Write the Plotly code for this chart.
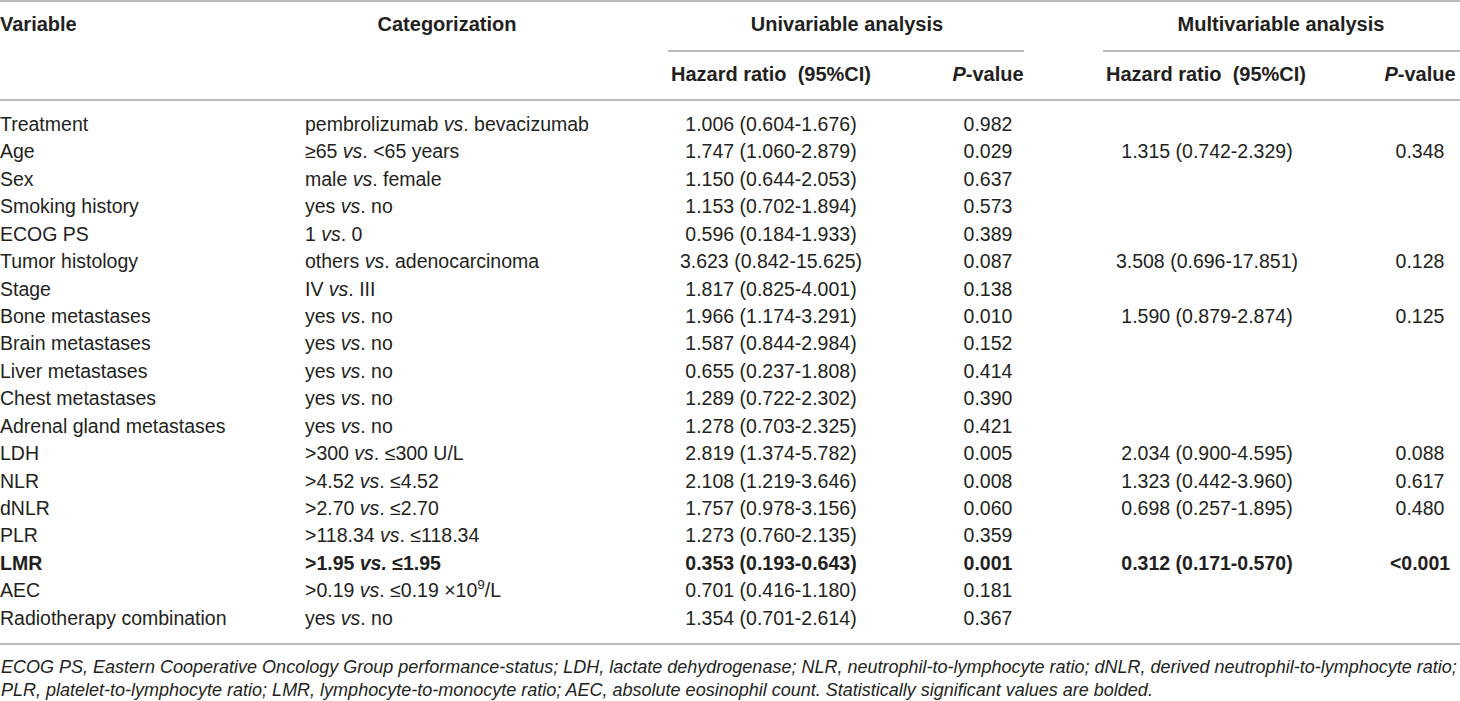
import plotly.graph_objects as go

# ---------------- data ----------------
variables = ["Treatment", "Age", "Sex", "Smoking history", "ECOG PS", "Tumor histology", "Stage",
             "Bone metastases", "Brain metastases", "Liver metastases", "Chest metastases",
             "Adrenal gland metastases", "LDH", "NLR", "dNLR", "PLR", "LMR", "AEC",
             "Radiotherapy combination"]
categories = ["pembrolizumab vs. bevacizumab", "≥65 vs. &lt;65 years", "male vs. female", "yes vs. no",
              "1 vs. 0", "others vs. adenocarcinoma", "IV vs. III", "yes vs. no", "yes vs. no",
              "yes vs. no", "yes vs. no", "yes vs. no", "&gt;300 vs. ≤300 U/L", "&gt;4.52 vs. ≤4.52",
              "&gt;2.70 vs. ≤2.70", "&gt;118.34 vs. ≤118.34", "&gt;1.95 vs. ≤1.95",
              "&gt;0.19 vs. ≤0.19 ×10<sup>9</sup>/L", "yes vs. no"]
uni_hr = ["1.006 (0.604-1.676)", "1.747 (1.060-2.879)", "1.150 (0.644-2.053)", "1.153 (0.702-1.894)",
          "0.596 (0.184-1.933)", "3.623 (0.842-15.625)", "1.817 (0.825-4.001)", "1.966 (1.174-3.291)",
          "1.587 (0.844-2.984)", "0.655 (0.237-1.808)", "1.289 (0.722-2.302)", "1.278 (0.703-2.325)",
          "2.819 (1.374-5.782)", "2.108 (1.219-3.646)", "1.757 (0.978-3.156)", "1.273 (0.760-2.135)",
          "0.353 (0.193-0.643)", "0.701 (0.416-1.180)", "1.354 (0.701-2.614)"]
uni_p = ["0.982", "0.029", "0.637", "0.573", "0.389", "0.087", "0.138", "0.010", "0.152", "0.414",
         "0.390", "0.421", "0.005", "0.008", "0.060", "0.359", "0.001", "0.181", "0.367"]
multi_hr = ["", "1.315 (0.742-2.329)", "", "", "", "3.508 (0.696-17.851)", "", "1.590 (0.879-2.874)",
            "", "", "", "", "2.034 (0.900-4.595)", "1.323 (0.442-3.960)", "0.698 (0.257-1.895)", "",
            "0.312 (0.171-0.570)", "", ""]
multi_p = ["", "0.348", "", "", "", "0.128", "", "0.125", "", "", "", "", "0.088", "0.617", "0.480", "",
           "&lt;0.001", "", ""]
significant = ["LMR"]

group_headers = ["Univariable analysis", "Multivariable analysis"]
sub_headers = ["Hazard ratio\u00a0 (95%CI)", "<i>P</i>-value", "Hazard ratio\u00a0 (95%CI)", "<i>P</i>-value"]
footnotes = [
    "ECOG PS, Eastern Cooperative Oncology Group performance-status; LDH, lactate dehydrogenase; "
    "NLR, neutrophil-to-lymphocyte ratio; dNLR, derived neutrophil-to-lymphocyte ratio;",
    "PLR, platelet-to-lymphocyte ratio; LMR, lymphocyte-to-monocyte ratio; AEC, absolute eosinophil count. "
    "Statistically significant values are bolded.",
]

# ---------------- layout constants ----------------
W, H = 1460, 701
FONT = "Liberation Sans, Arial, Helvetica, sans-serif"
TXT = "#231f20"
LINE = "#a3a3a3"
BODY = 19.5
HEAD = 20
FOOT = 18
ROW0, ROWH = 126.0, 27.44          # pixel centre of first row, row height


def prow(px):
    """pixel y -> row units"""
    return (px - ROW0) / ROWH


def fmt(v, t):
    t = t.replace(" vs. ", " <i>vs</i>. ")
    if v in significant and t:
        t = "<b>" + t.replace("<i>vs</i>.", "<i>vs.</i>") + "</b>"
    return t


fig = go.Figure()


def col(x, texts, pos, size=BODY):
    ys, ts = [], []
    for i, (v, t) in enumerate(zip(variables, texts)):
        if t:
            ys.append(i)
            ts.append(fmt(v, t))
    fig.add_trace(go.Scatter(
        x=[x] * len(ts), y=ys, text=ts, mode="text", textposition=pos,
        textfont=dict(family=FONT, size=size, color=TXT), hoverinfo="skip", showlegend=False))


col(0, variables, "middle right")
col(305, categories, "middle right")
col(771, uni_hr, "middle center")
col(988, uni_p, "middle center")
col(1207, multi_hr, "middle center")
col(1420, multi_p, "middle center")

# headers
hdr = dict(family=FONT, size=HEAD, color=TXT)
fig.add_trace(go.Scatter(x=[0], y=[prow(26)], text=["<b>Variable</b>"], mode="text",
                         textposition="middle right", textfont=hdr, hoverinfo="skip", showlegend=False))
fig.add_trace(go.Scatter(x=[447, 847, 1281], y=[prow(26)] * 3,
                         text=["<b>Categorization</b>"] + ["<b>%s</b>" % g for g in group_headers],
                         mode="text", textposition="middle center", textfont=hdr,
                         hoverinfo="skip", showlegend=False))
fig.add_trace(go.Scatter(x=[771, 988, 1206, 1420], y=[prow(76)] * 4,
                         text=["<b>%s</b>" % s for s in sub_headers],
                         mode="text", textposition="middle center", textfont=hdr,
                         hoverinfo="skip", showlegend=False))

# footnotes
for i, f in enumerate(footnotes):
    fig.add_annotation(x=0, y=prow(667 + 23 * i), xref="x", yref="y", text="<i>%s</i>" % f,
                       showarrow=False, xanchor="left", yanchor="middle", borderpad=0,
                       font=dict(family=FONT, size=FOOT, color=TXT))

# rules
def hline(x0, x1, py, w=1.5):
    fig.add_shape(type="line", xref="x", yref="y", x0=x0, x1=x1, y0=prow(py), y1=prow(py),
                  line=dict(color=LINE, width=w))


hline(0, W, 1)
hline(668, 1024, 51)
hline(1103, W, 51)
hline(0, W, 100)
hline(0, W, 644)

fig.update_layout(
    width=W, height=H, margin=dict(l=0, r=0, t=0, b=0),
    paper_bgcolor="white", plot_bgcolor="white",
    xaxis=dict(range=[0, W], visible=False, fixedrange=True),
    yaxis=dict(range=[prow(H), prow(0)], visible=False, fixedrange=True),
)

fig.write_html("out.html", config={"displayModeBar": False},
               post_script="document.body.style.margin='0';document.body.style.overflow='hidden';")
